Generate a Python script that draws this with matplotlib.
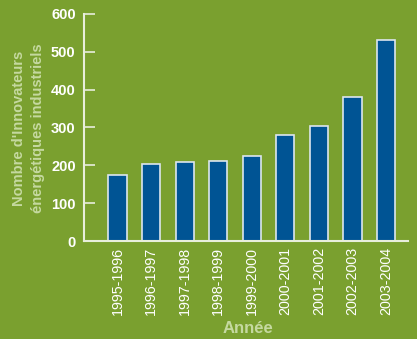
import matplotlib.pyplot as plt

periodes = ["1995-1996", "1996-1997", "1997-1998", "1998-1999", "1999-2000",
            "2000-2001", "2001-2002", "2002-2003", "2003-2004"]
innovateurs = [175, 204, 209, 212, 225, 280, 304, 381, 530]
yticks = [0, 100, 200, 300, 400, 500, 600]

vert = '#7aa02f'
bleu = '#005494'
clair = '#c5d9a0'

fig = plt.figure(figsize=(4.17, 3.39), dpi=100, facecolor=vert)
ax = fig.add_axes([0.2014, 0.289, 0.7766, 0.67])
ax.set_facecolor(vert)

x = range(len(periodes))
ax.bar(x, innovateurs, width=0.54, color=bleu, edgecolor='#dce6ee', linewidth=1.2)

ax.set_xlim(-1, 8.65)
ax.set_ylim(0, 600)
ax.set_yticks(yticks)
ax.set_yticklabels([str(v) for v in yticks], fontsize=10.5, color='white',
                   fontweight='bold', family='Liberation Sans')
ax.set_xticks(list(x))
ax.set_xticklabels(periodes, rotation=90, fontsize=10.3, color='white',
                   family='Liberation Sans')
ax.tick_params(axis='y', direction='in', length=8, width=1.2, color='#e8eedc', pad=6)
ax.tick_params(axis='x', length=0, pad=4)

for s in ['top', 'right']:
    ax.spines[s].set_visible(False)
for s in ['left', 'bottom']:
    ax.spines[s].set_color('#e8eedc')
    ax.spines[s].set_linewidth(1.5)

# titres des axes
fig.text(0.068, 0.622, "Nombre d'Innovateurs\nénergétiques industriels", rotation=90,
         ha='center', va='center', fontsize=10.5, color=clair, fontweight='bold',
         family='Liberation Sans', linespacing=1.45)
fig.text(0.595, 0.032, "Année", ha='center', va='center', fontsize=12, color=clair,
         fontweight='bold', family='Liberation Sans')

fig.savefig('out.png', dpi=100, facecolor=vert)
